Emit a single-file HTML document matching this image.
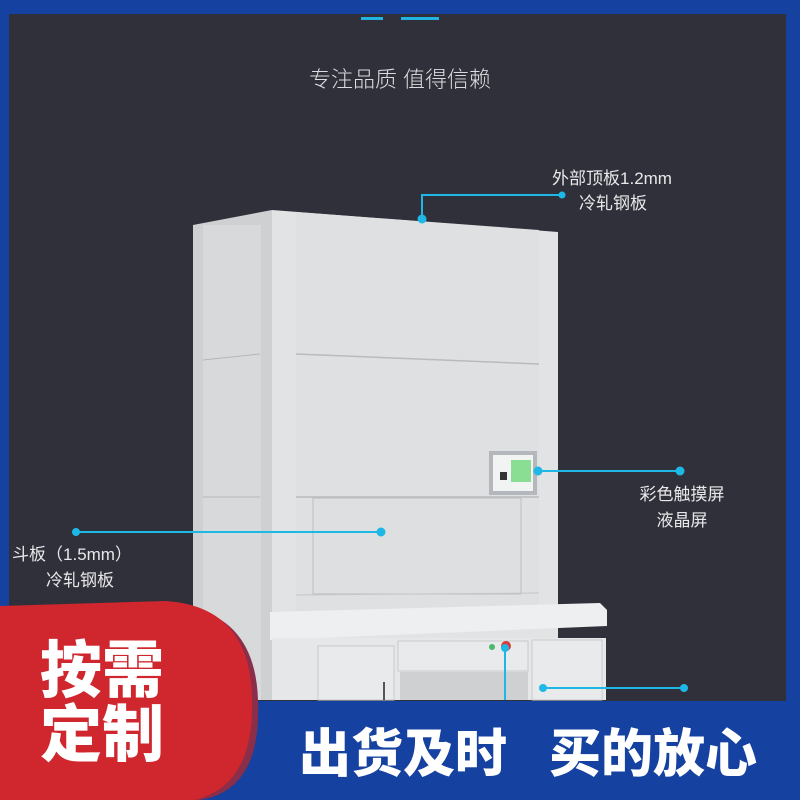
<!DOCTYPE html>
<html><head><meta charset="utf-8"><style>
body{margin:0;width:800px;height:800px;overflow:hidden;background:#1541a0;}
svg{display:block}
</style></head><body>
<svg width="800" height="800" viewBox="0 0 800 800" xmlns="http://www.w3.org/2000/svg">
<rect width="800" height="800" fill="#1541a0"/>
<rect x="9" y="14" width="777" height="687" fill="#30303a"/>
<rect x="361" y="17" width="22" height="3" fill="#22b4e0"/>
<rect x="401" y="17" width="38" height="3" fill="#22b4e0"/>
<text x="400" y="87" text-anchor="middle" font-family="Liberation Sans,'Noto Sans CJK SC',sans-serif" font-size="22" font-weight="300" fill="#dcdce0">专注品质 值得信赖</text>
<polygon points="193,225 272,210 272,700 193,700" fill="#cfd0d2"/>
<rect x="203" y="225" width="58" height="475" fill="#d8d9db"/>
<line x1="203" y1="360" x2="260" y2="354" stroke="#b5b6b8"/>
<line x1="203" y1="497" x2="260" y2="497" stroke="#b5b6b8"/>
<polygon points="272,210 558,232 558,700 272,700" fill="#e2e3e5"/>
<polygon points="296,212 539,230 539,620 296,620" fill="#dfe0e2"/>
<line x1="296" y1="354" x2="539" y2="364" stroke="#b9babc" stroke-width="1.5"/>
<line x1="296" y1="497" x2="539" y2="497" stroke="#b9babc" stroke-width="1.5"/>
<rect x="313" y="498" width="208" height="96" fill="#dedfe1" stroke="#bdbec0"/>
<line x1="296" y1="595" x2="539" y2="593" stroke="#c5c6c8"/>
<rect x="489" y="451" width="48" height="44" fill="#b4b7bb"/>
<rect x="493" y="455" width="40" height="36" fill="#f2f3f3"/>
<rect x="511" y="460" width="20" height="22" fill="#6ed87a" opacity="0.8"/>
<rect x="500" y="472" width="7" height="8" fill="#333"/>
<polygon points="270,612 600,603 607,610 607,626 270,640" fill="#eeeff0"/>
<rect x="272" y="638" width="334" height="62" fill="#e6e7e9"/>
<rect x="318" y="646" width="76" height="54" fill="#e9eaec" stroke="#c8c9cb"/>
<rect x="398" y="641" width="130" height="30" fill="#e9eaec" stroke="#c8c9cb"/>
<rect x="400" y="672" width="128" height="28" fill="#cfd0d2"/>
<rect x="532" y="640" width="70" height="60" fill="#e9eaec" stroke="#c8c9cb"/>
<circle cx="492" cy="647" r="3" fill="#4cb86a"/>
<circle cx="506" cy="646" r="5" fill="#d93a3a"/>
<rect x="383" y="682" width="2" height="18" fill="#555"/>
<g stroke="#1fb8e6" stroke-width="2" fill="#1fb8e6">
<polyline points="422,219 422,195 562,195" fill="none"/><circle cx="422" cy="219" r="3.5"/><circle cx="562" cy="195" r="2.5"/>
<line x1="538" y1="471" x2="680" y2="471"/><circle cx="538" cy="471" r="3.5"/><circle cx="680" cy="471" r="3.5"/>
<line x1="76" y1="532" x2="381" y2="532"/><circle cx="76" cy="532" r="3"/><circle cx="381" cy="532" r="3.5"/>
<line x1="505" y1="648" x2="505" y2="700"/><circle cx="505" cy="648" r="3"/>
<line x1="543" y1="688" x2="684" y2="688"/><circle cx="543" cy="688" r="3"/><circle cx="684" cy="688" r="3"/>
</g>
<g font-family="Liberation Sans,'Noto Sans CJK SC',sans-serif" font-size="17" fill="#e8e8ea">
<text x="612" y="184" text-anchor="middle">外部顶板1.2mm</text>
<text x="613" y="209" text-anchor="middle">冷轧钢板</text>
<text x="682" y="500" text-anchor="middle">彩色触摸屏</text>
<text x="682" y="526" text-anchor="middle">液晶屏</text>
<text x="72" y="560" text-anchor="middle">斗板（1.5mm）</text>
<text x="80" y="586" text-anchor="middle">冷轧钢板</text>
</g>
<path d="M0,612 L170,605 Q255,610 258,700 Q262,790 200,800 L0,800 Z" fill="#8a2e4a"/>
<path d="M0,606 L165,601 Q250,606 252,698 Q255,785 195,800 L0,800 Z" fill="#d0262e"/>
<g font-family="'Noto Sans CJK SC',sans-serif" font-weight="900" font-size="62" fill="#fff">
<text x="40" y="692">按需</text>
<text x="40" y="756">定制</text>
</g>
<g font-family="'Noto Sans CJK SC',sans-serif" font-weight="900" font-size="52" fill="#fff">
<text x="299" y="772">出货及时</text>
<text x="549" y="772">买的放心</text>
</g>
</svg>
</body></html>
